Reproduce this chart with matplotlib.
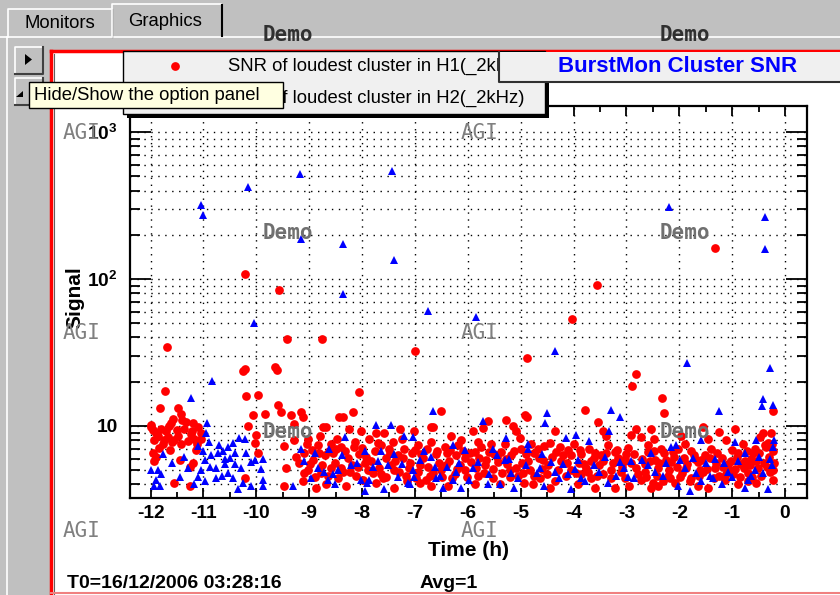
import matplotlib
matplotlib.use('Agg')
import matplotlib.pyplot as plt
from matplotlib.patches import Rectangle, Polygon
from matplotlib.ticker import FixedLocator, LogLocator, MultipleLocator, NullFormatter

plt.rcParams['font.family'] = ['Liberation Sans', 'DejaVu Sans']
plt.rcParams['mathtext.fontset'] = 'custom'
plt.rcParams['mathtext.rm'] = 'Liberation Sans:bold'
plt.rcParams['mathtext.bf'] = 'Liberation Sans:bold'

# H1 (red circles): hours before T0, SNR
h1_time = [-10.22, -9.57, -9.42, -8.76, -11.69, -7.00, -10.22, -10.25, -9.65, -9.61, -11.72,
           -1.32, -3.56, -4.03, -4.88, -2.82, -2.90,
           -11.83, -11.48, -11.42, -11.61, -11.33, -11.99, -11.11, -11.80, -11.89, -11.67, -11.55,
           -11.23, -11.17, -11.42, -11.77, -11.93, -11.04, -11.64, -11.96, -11.45, -11.93, -11.20,
           -11.26, -11.55, -11.26, -10.22, -10.19, -9.97, -10.06, -9.84, -10.16, -10.00, -10.03,
           -9.97, -9.59, -9.53, -9.34, -9.47, -9.43, -9.47, -9.28, -9.28,
           -11.70, -11.50, -11.36, -11.86, -11.74, -11.60, -11.30, -11.12, -11.48, -11.95, -11.58,
           -11.40, -11.20, -11.85, -11.05, -11.15, -11.90, -12.00, -11.65, -11.22,
           -8.05, -8.17, -8.36, -8.43, -6.50, -6.69, -6.66, -8.68, -8.74, -9.15, -9.12, -8.24,
           -8.02, -7.73, -7.58, -7.29, -7.01, -6.31, -6.12, -9.03, -8.84, -8.58, -8.40, -8.14,
           -7.86, -7.64, -7.42, -7.20, -6.95, -6.69, -6.44, -6.19, -9.09, -8.93, -8.71, -8.52,
           -8.27, -8.05, -7.83, -7.54, -7.32, -7.10, -6.85, -6.60, -6.35, -6.06, -9.03, -8.77,
           -8.58, -8.36, -8.11, -7.89, -7.64, -7.39, -7.17, -6.95, -6.72, -6.50, -6.25, -6.06,
           -8.87, -8.68, -8.30, -7.73, -7.39, -6.91, -6.69, -6.38, -9.12,
           -8.95, -8.80, -8.62, -8.48, -8.20, -8.00, -7.95, -7.76, -7.50, -7.45, -7.25, -7.05,
           -6.90, -6.78, -6.55, -6.40, -6.22, -6.15, -9.20, -9.05, -8.45, -7.98, -7.60, -7.15,
           -6.80, -6.30,
           -4.91, -4.88, -3.79, -5.62, -5.71, -5.90, -5.27, -5.15, -5.08, -5.02, -4.36, -3.54,
           -3.44, -3.38, -2.91, -2.81, -5.81, -5.56, -5.87, -5.37, -5.18, -4.74, -4.55, -4.33,
           -4.10, -3.85, -3.67, -3.48, -3.22, -2.97, -5.94, -5.68, -5.43, -5.08, -4.86, -4.49,
           -4.23, -4.04, -3.76, -3.51, -3.29, -3.07, -2.81, -5.81, -5.53, -5.21, -4.93, -4.64,
           -4.36, -3.92, -3.67, -3.22, -3.03, -5.87, -4.77,
           -5.75, -5.50, -5.30, -5.00, -4.80, -4.65, -4.45, -4.20, -4.00, -3.90, -3.70, -3.60,
           -3.35, -3.15, -3.00, -5.65, -5.25, -4.95, -4.60, -4.15, -3.85, -3.45, -3.10, -5.40,
           -4.45, -3.60, -2.95,
           -2.33, -2.29, -0.95, -0.23, -0.42, -0.26, -0.48, -0.32, -0.23, -0.20, -0.23, -0.57,
           -0.38, -1.55, -1.24, -2.53, -2.72, -2.47, -1.96, -1.46, -1.11, -0.80, -2.59, -2.28,
           -2.02, -1.77, -1.52, -1.20, -0.89, -0.64, -2.65, -2.40, -2.15, -1.87, -1.65, -1.33,
           -1.08, -0.83, -0.51, -2.72, -2.50, -2.53, -2.40, -2.09, -1.77, -1.46, -1.14, -0.89,
           -0.70, -0.54, -2.65, -2.21, -1.55, -0.98,
           -2.60, -2.35, -2.10, -1.90, -1.70, -1.40, -1.30, -1.00, -0.75, -0.60, -2.45, -2.20,
           -1.95, -1.60, -1.05, -0.70, -2.30, -1.65, -1.25, -0.35, -0.30,
           -9.25, -9.10, -8.98, -8.90, -8.82, -8.75, -8.65, -8.55, -8.50, -8.40, -8.33, -8.22,
           -8.15, -8.08, -7.92, -7.80, -7.70, -7.68, -7.55, -7.48, -7.38, -7.30, -7.22, -7.12,
           -7.00, -6.98, -6.88, -6.75, -6.65, -6.58, -6.48, -6.42, -6.33, -6.20, -6.10, -6.02,
           -5.96, -5.85, -5.78, -5.70, -5.60, -5.52, -5.45, -5.35, -5.28, -5.20, -5.12, -5.05,
           -4.98, -4.90, -4.83, -4.75, -4.68, -4.58, -4.50, -4.40, -4.30, -4.25, -4.12, -4.05,
           -3.95, -3.88, -3.80, -3.72, -3.62, -3.55, -3.45, -3.38, -3.30, -3.25, -3.18, -3.08,
           -3.02, -2.92, -2.85, -2.78, -2.70, -2.62, -2.55, -2.48, -2.42, -2.38, -2.25, -2.18,
           -2.12, -2.05, -1.98, -1.92, -1.85, -1.80, -1.72, -1.62, -1.58, -1.48, -1.42, -1.35,
           -1.28, -1.18, -1.12, -1.02, -0.95, -0.90, -0.85, -0.78, -0.72, -0.66, -0.62, -0.55,
           -0.50, -0.45, -0.40, -0.36, -0.28, -0.25, -0.22]
h1_snr = [108, 84, 39, 39, 34.4, 32.4, 24.4, 23.8, 25.2, 24.2, 17.3,
          162, 91, 53.5, 29, 22.6, 18.7,
          13.2, 13.3, 12.0, 10.5, 10.6, 10.2, 9.9, 9.6, 9.0, 8.4, 8.0,
          8.8, 8.2, 7.6, 7.6, 8.0, 9.0, 6.9, 6.6, 5.9, 5.8, 5.6,
          5.3, 4.1, 3.9, 4.4, 16.0, 16.3, 11.8, 12.1, 10.0, 8.7, 7.7,
          6.6, 14.0, 12.4, 11.8, 7.3, 5.2, 3.9, 8.0, 10.3,
          9.2, 9.4, 9.6, 8.6, 8.0, 7.8, 7.9, 7.5, 8.6, 9.4, 11.2,
          10.9, 10.4, 7.1, 8.1, 6.9, 6.2, 9.8, 10.0, 9.3,
          16.9, 12.5, 11.5, 11.5, 12.6, 9.9, 9.9, 9.9, 9.9, 12.5, 11.5, 9.6,
          9.2, 9.0, 9.0, 9.6, 9.2, 8.6, 8.0, 8.2, 7.4, 7.6, 7.2, 7.8,
          8.2, 7.4, 7.8, 7.0, 7.4, 7.8, 7.2, 7.4, 6.6, 5.9, 6.3, 5.6,
          6.1, 6.4, 5.8, 6.1, 6.3, 5.6, 6.1, 6.4, 5.8, 6.1, 5.0, 4.8,
          5.2, 4.9, 4.6, 5.0, 4.7, 5.0, 4.6, 4.9, 4.6, 5.0, 4.7, 5.0,
          3.8, 4.0, 3.9, 4.1, 3.8, 4.1, 3.9, 3.9, 4.2,
          6.9, 8.6, 6.8, 8.1, 5.4, 7.1, 5.6, 6.8, 7.0, 5.4, 8.2, 6.6,
          5.4, 7.0, 5.6, 6.6, 6.3, 5.4, 5.6, 7.6, 4.4, 4.3, 4.4, 4.2,
          4.3, 4.4,
          11.9, 11.5, 12.8, 10.8, 9.7, 9.2, 10.9, 10.0, 9.2, 8.3, 9.3, 10.6,
          9.2, 8.5, 8.7, 9.5, 7.8, 7.6, 6.7, 6.7, 6.3, 6.6, 7.3, 6.7,
          6.9, 6.4, 5.8, 6.3, 6.7, 7.1, 5.7, 5.4, 5.7, 5.2, 5.8, 5.4,
          5.8, 5.0, 5.2, 5.4, 5.0, 5.7, 5.2, 4.6, 4.4, 4.5, 4.1, 4.4,
          4.2, 4.0, 4.4, 3.8, 4.4, 4.0, 4.0,
          7.2, 6.4, 7.6, 7.0, 7.6, 6.1, 7.7, 6.3, 7.6, 5.6, 7.0, 6.6,
          7.4, 6.1, 6.4, 5.9, 5.5, 4.8, 5.1, 4.6, 4.7, 4.7, 4.9, 4.0,
          3.8, 3.8, 3.9,
          15.4, 12.2, 9.6, 12.6, 9.0, 9.0, 8.4, 7.7, 6.8, 5.6, 4.3, 7.0,
          7.4, 9.9, 9.1, 9.6, 8.4, 8.2, 8.6, 8.2, 8.0, 7.6, 6.7, 6.5,
          7.0, 6.8, 6.3, 6.1, 6.5, 6.0, 5.5, 5.2, 5.7, 5.2, 5.7, 5.2,
          5.5, 5.5, 5.2, 4.3, 4.1, 3.8, 3.9, 4.1, 4.4, 3.8, 4.3, 4.0,
          4.2, 4.1, 4.9, 4.6, 4.9, 4.7,
          7.4, 7.0, 6.2, 7.5, 6.0, 7.0, 5.6, 6.9, 5.8, 6.6, 5.9, 5.0,
          4.8, 5.0, 5.0, 4.8, 4.2, 3.9, 4.6, 5.3, 6.2,
          6.2, 4.8, 5.5, 4.5, 6.6, 5.4, 4.6, 6.5, 7.0, 5.2, 6.8, 4.9,
          7.2, 5.3, 6.2, 4.8, 7.7, 5.2, 4.5, 6.6, 5.8, 4.9, 6.1, 5.2,
          6.9, 4.4, 6.4, 5.3, 4.8, 6.8, 4.5, 5.4, 6.9, 5.1, 6.8, 4.5,
          6.5, 5.2, 6.1, 4.8, 6.7, 5.1, 6.2, 4.8, 6.0, 5.0, 6.8, 4.6,
          5.6, 6.4, 5.0, 4.6, 7.0, 5.9, 4.7, 6.2, 5.0, 7.2, 5.6, 6.3,
          4.8, 6.9, 5.5, 4.9, 6.1, 4.6, 5.8, 6.6, 4.4, 5.6, 6.9, 5.3,
          6.0, 5.6, 6.4, 4.7, 6.0, 4.5, 5.8, 6.8, 4.6, 5.6, 5.9, 4.4,
          6.7, 5.3, 4.5, 6.1, 5.5, 4.2, 6.3, 4.6, 5.9, 5.1, 6.1, 4.4,
          6.5, 5.3, 4.7, 5.8, 5.1, 6.2, 4.5, 5.2, 6.8, 5.4, 4.5, 5.8,
          6.5, 4.6, 5.6, 7.2, 4.9, 7.6, 5.0]

# H2 (blue triangles)
h2_time = [-11.05, -11.01, -10.16, -9.18, -7.44, -9.16, -8.36, -7.40, -8.36, -6.75, -10.05,
           -10.84, -2.19, -0.38, -0.38, -5.85, -4.35, -1.85, -0.28,
           -11.24, -10.93, -10.96, -11.11, -11.01, -10.85, -10.73, -10.63, -10.54, -10.44, -10.41,
           -10.32, -10.22, -10.88, -10.76, -10.60, -10.54, -10.29, -10.10, -10.03, -9.88, -9.91,
           -9.88, -10.76, -11.11, -11.45, -11.30, -11.36, -11.77, -11.86, -12.00, -11.90, -11.93,
           -11.83, -10.98, -10.35, -10.25, -10.10, -9.88, -9.31, -11.17, -10.98, -10.41,
           -10.70, -10.50, -10.65, -10.45, -10.20, -10.90, -11.05, -11.60, -11.80, -10.60,
           -6.66, -7.73, -7.45, -8.33, -7.20, -7.04, -6.28, -8.62, -7.95, -7.64, -6.82, -8.84,
           -8.46, -8.21, -7.80, -7.51, -7.04, -6.63, -6.16, -8.96, -8.65, -8.02, -7.86, -7.32,
           -7.01, -6.60, -6.28, -8.52, -7.95, -7.58, -7.13, -6.47, -6.12, -9.15,
           -4.50, -4.54, -3.29, -3.13, -5.71, -3.95, -3.70, -3.32, -4.14, -4.86, -5.53, -5.27,
           -5.30, -4.86, -4.42, -3.92, -4.36, -3.13, -2.91, -5.90, -5.18, -4.64, -4.10, -3.51,
           -5.97, -5.40, -5.12, -4.55, -4.04, -3.85, -3.35, -2.97, -5.62,
           -0.42, -0.44, -0.23, -1.24, -0.20, -0.54, -0.95, -1.58, -2.06, -2.53, -2.15, -1.74,
           -1.33, -0.76, -0.29, -2.59, -1.90, -1.08, -0.57, -2.31, -1.58, -0.70, -2.02, -1.80,
           -1.20, -0.76, -0.32, -1.36,
           -9.10, -8.90, -8.72, -8.55, -8.38, -8.10, -7.90, -7.70, -7.40, -7.25, -7.10, -6.90,
           -6.70, -6.52, -6.40, -6.22, -6.05, -5.80, -5.60, -5.45, -5.22, -5.05, -4.90, -4.70,
           -4.60, -4.28, -4.20, -3.98, -3.78, -3.62, -3.40, -3.20, -3.05, -2.85, -2.70, -2.45,
           -2.25, -1.98, -1.68, -1.50, -1.42, -1.15, -1.00, -0.88, -0.65, -0.50, -0.42, -0.25,
           -0.22]
h2_snr = [318, 272, 423, 518, 543, 187, 173, 135, 79, 60.5, 50,
          20.2, 309, 264, 160, 55, 32.4, 26.9, 24.8,
          15.5, 10.5, 9.0, 7.3, 6.8, 6.3, 6.5, 6.8, 7.2, 7.7, 6.5,
          8.3, 8.1, 5.3, 5.2, 5.5, 4.8, 5.2, 5.7, 5.9, 6.0, 5.1,
          4.3, 4.4, 4.5, 4.5, 5.2, 6.2, 6.4, 5.0, 5.0, 4.3, 3.9,
          3.9, 4.2, 3.7, 4.1, 3.9, 3.9, 3.9, 4.0, 5.9, 5.5,
          7.4, 6.1, 4.6, 4.4, 6.6, 7.8, 5.0, 5.6, 4.7, 6.0,
          12.6, 10.1, 10.1, 8.4, 8.6, 8.4, 7.4, 7.0, 6.8, 6.8, 6.8, 5.2,
          5.0, 5.4, 5.3, 5.4, 5.0, 5.3, 5.6, 4.4, 4.3, 4.3, 4.3, 4.5,
          4.5, 4.4, 4.3, 4.0, 3.6, 3.7, 4.1, 3.8, 3.8, 7.0,
          12.2, 10.5, 12.8, 11.6, 10.8, 8.7, 7.9, 9.3, 8.3, 7.0, 7.0, 8.3,
          5.9, 7.5, 5.7, 5.9, 4.9, 5.7, 5.8, 5.2, 4.8, 5.2, 4.7, 4.9,
          4.3, 4.0, 3.8, 3.9, 3.7, 4.4, 4.1, 4.5, 4.0,
          15.2, 13.6, 13.9, 12.6, 8.0, 8.0, 7.8, 8.0, 7.4, 6.5, 7.2, 6.1,
          6.0, 6.6, 6.0, 5.4, 5.2, 4.9, 5.0, 4.6, 4.2, 4.3, 3.9, 3.6,
          4.0, 3.8, 3.7, 4.4,
          5.8, 6.5, 4.9, 4.7, 6.3, 5.6, 4.1, 5.8, 6.4, 5.5, 4.0, 5.9,
          6.2, 4.6, 5.3, 4.9, 6.9, 5.7, 4.7, 6.3, 6.0, 4.4, 5.4, 4.8,
          6.4, 4.4, 5.5, 5.1, 4.2, 5.4, 6.2, 4.6, 5.2, 4.4, 5.9, 4.9,
          5.6, 5.9, 4.8, 5.6, 4.6, 5.6, 4.5, 5.8, 4.6, 6.2, 4.8, 5.4,
          7.2]

x_ticks = [-12, -11, -10, -9, -8, -7, -6, -5, -4, -3, -2, -1, 0]
y_ticks = [10, 100, 1000]
y_tick_labels = ['10', r'$\mathbf{10^{2}}$', r'$\mathbf{10^{3}}$']
legend_labels = ['SNR of loudest cluster in H1(_2kHz)', 'SNR of loudest cluster in H2(_2kHz)']
title = 'BurstMon Cluster SNR'
W, H = 840, 595


def box(a, x0, y0, x1, y1, **kw):
    a.add_patch(Rectangle((x0, y0), x1 - x0, y1 - y0, **kw))


fig = plt.figure(figsize=(W / 100, H / 100), dpi=100)
fig.patch.set_facecolor('#c0c0c0')

# --- window chrome behind the plot (pixel coords, y down)
bg = fig.add_axes([0, 0, 1, 1], zorder=0)
bg.set_xlim(0, W)
bg.set_ylim(H, 0)
bg.axis('off')

bg.plot([0, W], [37, 37], color='white', lw=1.2)
bg.plot([7, 7], [37, H], color='white', lw=1.2)
# tabs
box(bg, 8, 9, 112, 37, fc='#c0c0c0', ec='none')
bg.plot([8, 8, 112], [37, 9, 9], color='white', lw=1.2)
bg.plot([112, 112], [9, 37], color='#808080', lw=1)
bg.text(60, 23, 'Monitors', fontsize=13.3, ha='center', va='center')
box(bg, 112, 4, 223, 38, fc='#c0c0c0', ec='none')
bg.plot([112, 112, 221], [37, 4, 4], color='white', lw=1.2)
bg.plot([222, 222], [5, 36], color='black', lw=1.5)
bg.text(165, 21, 'Graphics', fontsize=13.3, ha='center', va='center')
# option buttons
for y0 in (47, 78):
    box(bg, 15, y0, 43, y0 + 27, fc='#c0c0c0', ec='none')
    bg.plot([15, 15, 43], [y0 + 27, y0, y0], color='white', lw=1.2)
    bg.plot([15, 43, 43], [y0 + 27, y0 + 27, y0], color='#404040', lw=1.5)
bg.add_patch(Polygon([[25, 54], [25, 65], [32, 59.5]], closed=True, fc='black'))
bg.add_patch(Polygon([[23, 91], [16, 97], [23, 97]], closed=True, fc='black'))
# canvas with red frame
box(bg, 50, 50, W, H, fc='white', ec='none')
bg.plot([51, 51], [H, 51], color='red', lw=2.5)
bg.plot([51, W], [51, 51], color='red', lw=2.5)
bg.plot([53.5, 53.5], [H, 53.5], color='#606060', lw=0.8)
bg.plot([51, W], [593, 593], color='#f08080', lw=1.5)

# --- the plot
ax = fig.add_axes([130 / W, (H - 498) / H, 677 / W, 392 / H], zorder=1)
ax.set_facecolor('white')
ax.plot(h1_time, h1_snr, 'o', color='red', ms=6.3, mew=0, ls='none', zorder=3)
ax.plot(h2_time, h2_snr, '^', color='blue', ms=5.2, mew=0, ls='none', zorder=4)
ax.set_yscale('log')
ax.set_xlim(-12.39, 0.416)
ax.set_ylim(3.237, 1503)
ax.set_xticks(x_ticks, labels=[str(t) for t in x_ticks], fontsize=13.8, fontweight='bold')
ax.xaxis.set_minor_locator(MultipleLocator(0.5))
ax.yaxis.set_major_locator(FixedLocator(y_ticks))
ax.set_yticklabels(y_tick_labels, fontsize=13.8, fontweight='bold')
ax.yaxis.set_minor_locator(LogLocator(base=10, subs=[2, 3, 4, 5, 6, 7, 8, 9]))
ax.yaxis.set_minor_formatter(NullFormatter())
ax.tick_params(axis='x', which='major', direction='in', length=7.5, width=1.3,
               top=True, bottom=True, pad=5)
ax.tick_params(axis='x', which='minor', direction='in', length=4.5, width=1.3, top=True, bottom=True)
ax.tick_params(axis='y', which='major', direction='in', length=15, width=1.3,
               left=True, right=True, pad=9)
ax.tick_params(axis='y', which='minor', direction='in', length=7.5, width=1.3, left=True, right=True)
ax.grid(True, axis='y', which='both', color='black', ls=(0, (1, 4)), lw=1)
ax.grid(True, axis='x', which='major', color='black', ls=(0, (1, 4)), lw=1)
for s in ax.spines.values():
    s.set_linewidth(1.6)

# --- everything that sits over the plot
fg = fig.add_axes([0, 0, 1, 1], zorder=2)
fg.set_xlim(0, W)
fg.set_ylim(H, 0)
fg.axis('off')

fg.text(75, 298, 'Signal', rotation=90, fontsize=15, fontweight='bold', ha='center', va='center')
fg.text(468, 550, 'Time (h)', fontsize=15, fontweight='bold', ha='center', va='center')
fg.text(67, 583, 'T0=16/12/2006 03:28:16', fontsize=14, fontweight='bold', va='center')
fg.text(420, 583, 'Avg=1', fontsize=14, fontweight='bold', va='center')

# legend
box(fg, 127, 55, 549, 118, fc='black', ec='none', zorder=4)
box(fg, 123, 51, 545, 114, fc='#f0f0f0', ec='black', lw=1, zorder=4)
fg.plot([175], [66], 'o', color='red', ms=6.3, mew=0, zorder=5)
fg.plot([175], [98], '^', color='blue', ms=5.2, mew=0, zorder=5)
fg.text(228, 66, legend_labels[0], fontsize=13.3, va='center', zorder=5)
fg.text(228, 98, legend_labels[1], fontsize=13.3, va='center', zorder=5)
# title
box(fg, 499, 52, W + 5, 82, fc='#f0f0f0', ec='none', zorder=6)
fg.plot([499, 499, W], [52, 82, 82], color='#303030', lw=1.5, zorder=6)
fg.text(678, 66, title, fontsize=16, fontweight='bold', color='#0000ff',
        ha='center', va='center', zorder=7)

# watermarks
for x in (288, 685):
    for y in (35, 233, 432):
        fg.text(x, y, 'Demo', family='DejaVu Sans Mono', fontweight='bold', fontsize=15,
                color='#303030' if y == 35 else '#707070', ha='center', va='center', zorder=8)
for x in (82, 480):
    for y in (133, 333, 531):
        fg.text(x, y, 'AGI', family='DejaVu Sans Mono', fontsize=15, color='#808080',
                ha='center', va='center', zorder=8)

# tooltip
box(fg, 29, 82, 283, 108, fc='#ffffe1', ec='black', lw=1, zorder=10)
fg.text(34, 95.5, 'Hide/Show the option panel', fontsize=13.3, va='center', zorder=11)

fig.savefig('out.png', dpi=100, facecolor=fig.get_facecolor())
